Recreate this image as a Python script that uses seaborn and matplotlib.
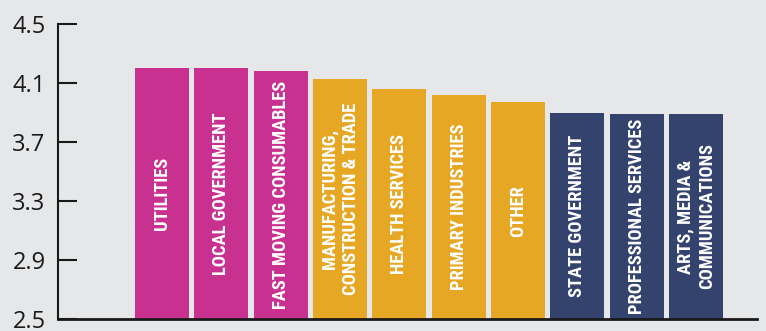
import matplotlib
matplotlib.use("Agg")
import matplotlib.pyplot as plt
import seaborn as sns
import pandas as pd
from matplotlib import font_manager

categories = ["UTILITIES", "LOCAL GOVERNMENT", "FAST MOVING CONSUMABLES",
              "MANUFACTURING,\nCONSTRUCTION & TRADE", "HEALTH SERVICES",
              "PRIMARY INDUSTRIES", "OTHER", "STATE GOVERNMENT",
              "PROFESSIONAL SERVICES", "ARTS, MEDIA &\nCOMMUNICATIONS"]
values = [4.20, 4.20, 4.18, 4.13, 4.06, 4.02, 3.97, 3.90, 3.89, 3.89]
groups = ["A", "A", "A", "B", "B", "B", "B", "C", "C", "C"]
yticks = [2.5, 2.9, 3.3, 3.7, 4.1, 4.5]

palette = {"A": "#c93190", "B": "#e6a725", "C": "#34426e"}
bg = "#e6e7e9"

sns.set_theme(style="white")
plt.rcParams['font.family'] = ['Open Sans', 'DejaVu Sans']

names = {f.name for f in font_manager.fontManager.ttflist}
label_family = "DejaVu Sans"
for cand in ["Roboto Condensed", "Liberation Sans Narrow", "DejaVu Sans Condensed"]:
    if cand in names:
        label_family = cand
        break

df = pd.DataFrame({"cat": categories, "val": values, "grp": groups})

fig = plt.figure(figsize=(7.66, 3.31), dpi=100, facecolor=bg)
ax = fig.add_axes([58/766, 12/331, (757-58)/766, (319-24)/331])
ax.set_facecolor(bg)

sns.barplot(data=df, x="cat", y="val", hue="grp", palette=palette,
            dodge=False, width=0.91, legend=False, ax=ax, saturation=1,
            linewidth=0)

ax.set_ylim(2.5, 4.5)
ax.set_xlim(-1.75, 10.03)
ax.set_yticks(yticks)
ax.set_yticklabels([f"{t:.1f}" for t in yticks])
ax.set_xticks([])
ax.set_xlabel("")
ax.set_ylabel("")
for s in ["top", "right"]:
    ax.spines[s].set_visible(False)
ax.spines["left"].set_color("#1a1a1a")
ax.spines["left"].set_linewidth(1.5)
ax.spines["bottom"].set_color("#1a1a1a")
ax.spines["bottom"].set_linewidth(2)
ax.tick_params(axis="y", direction="in", length=14, width=1.5, color="#1a1a1a",
               pad=9, labelsize=17, labelcolor="#1a1a1a", left=True)

for i, (lab, v) in enumerate(zip(categories, values)):
    ax.text(i, (2.5 + v) / 2, lab, rotation=90, ha="center", va="center",
            color="white", fontsize=13.3, fontweight="bold",
            family=[label_family, "DejaVu Sans"], fontstretch="condensed",
            multialignment="center", linespacing=1.25)

fig.savefig("out.png", dpi=100, facecolor=bg)
